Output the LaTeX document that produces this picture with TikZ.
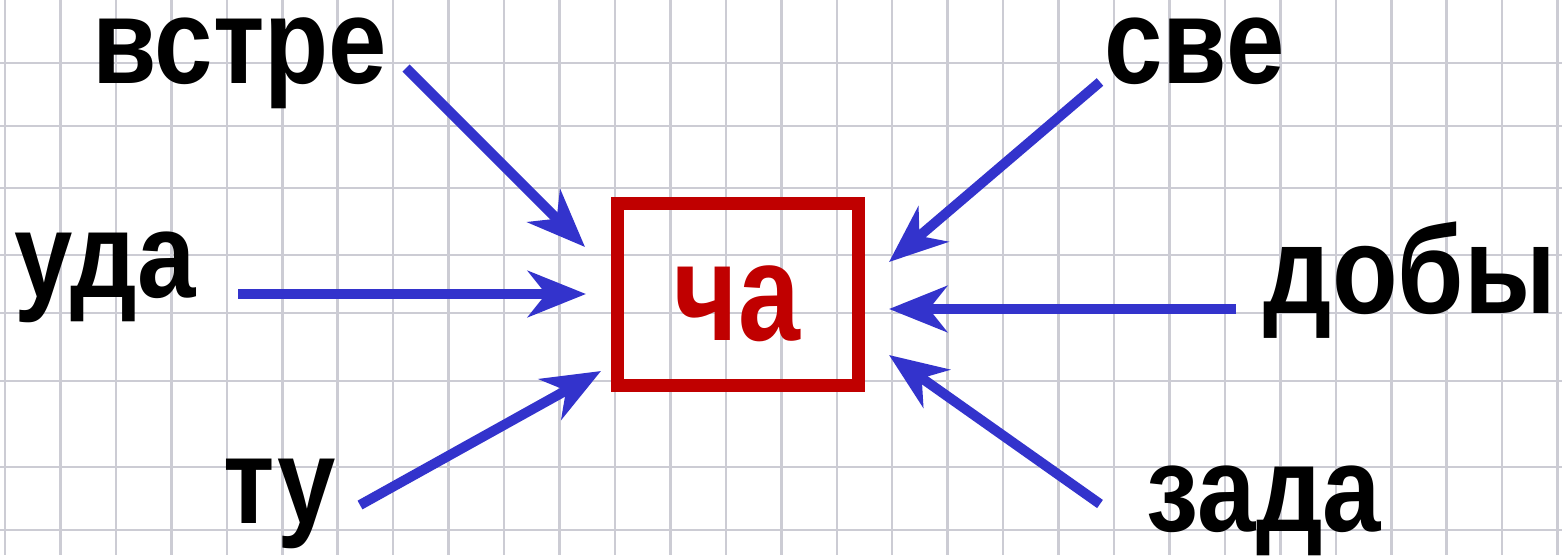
\documentclass[tikz,border=0pt]{standalone}
\usepackage{fontspec}
\setmainfont{Liberation Sans}
\usetikzlibrary{arrows.meta}
\definecolor{gridc}{RGB}{204,204,212}
\definecolor{arrc}{RGB}{51,51,204}
\definecolor{boxc}{RGB}{192,0,0}
\begin{document}
\begin{tikzpicture}[x=1pt,y=-1pt,
  word/.style={font=\fontsize{122}{130}\selectfont\bfseries, inner sep=0pt, anchor=base, xscale=0.86, text=black, text height=0.56em, text depth=0.2em},
  redword/.style={font=\fontsize{139}{150}\selectfont\bfseries, inner sep=0pt, anchor=base, xscale=0.8, text=boxc},
  framebox/.style={draw=boxc, line width=13pt, minimum width=241pt, minimum height=182pt, inner sep=0pt},
  arr/.style={draw=arrc, line width=10pt, -{Stealth[length=58pt, width=46pt, inset=18pt]}},
  gridline/.style={draw=gridc, line width=2.5pt}
]
\useasboundingbox (0,0) rectangle (1562,555);
\fill[white] (0,0) rectangle (1562,555);
% grid
\foreach \k in {0,...,28} {
  \draw[gridline] ({5+55.45*\k},0) -- ({5+55.45*\k},555);
}
\foreach \yy in {63,126,188,255,313,381,467,530} {
  \draw[gridline] (0,\yy) -- (1562,\yy);
}
% words
\node[word] (vstre) at (240,83) {встре};
\node[word] (uda) at (105,297) {уда};
\node[word] (tu) at (280,523) {ту};
\node[word] (sve) at (1194.5,83) {све};
\node[word, font=\fontsize{125}{130}\selectfont\bfseries] (doby) at (1410,313) {добы};
\node[word] (zada) at (1264,531) {зада};
% centre box
\node[framebox] (box) at (737.5,294) {};
\node[redword] (ca) at (737,340) {ча};
% arrow ends
\coordinate (s1) at (406,68);   \coordinate (t1) at (585,247);
\coordinate (s2) at (238,294);  \coordinate (t2) at (586,294);
\coordinate (s3) at (360,505);  \coordinate (t3) at (601,371);
\coordinate (s4) at (1100,82);  \coordinate (t4) at (889,262);
\coordinate (s5) at (1236,309); \coordinate (t5) at (889,309);
\coordinate (s6) at (1100,504); \coordinate (t6) at (889,355);
\draw[arr] (s1) -- (t1);
\draw[arr] (s2) -- (t2);
\draw[arr] (s3) -- (t3);
\draw[arr] (s4) -- (t4);
\draw[arr] (s5) -- (t5);
\draw[arr] (s6) -- (t6);
\end{tikzpicture}
\end{document}
